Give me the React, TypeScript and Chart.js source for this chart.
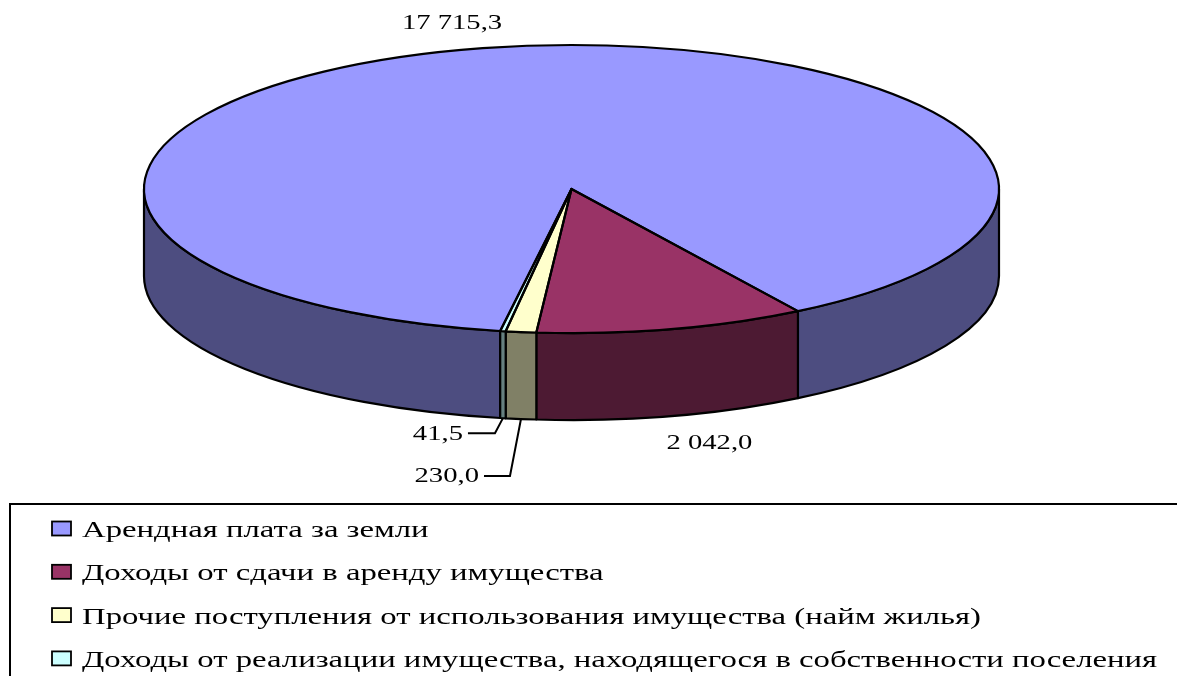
import React, { useEffect, useRef } from 'react';
import { Chart, registerables } from 'chart.js';

Chart.register(...registerables);

// ---- data ----
const categories = [
  'Арендная плата за земли',
  'Доходы от сдачи в аренду имущества',
  'Прочие поступления от использования имущества (найм жилья)',
  'Доходы от реализации имущества, находящегося в собственности поселения',
];
const values = [17715.3, 2042.0, 230.0, 41.5];
const valueLabels = ['17 715,3', '2 042,0', '230,0', '41,5'];

// ---- styles ----
const topColors = ['#9999FF', '#993366', '#FFFFCC', '#CCFFFF'];
const sideColors = ['#4D4D80', '#4D1A33', '#808066', '#668080'];

// ---- layout ----
const ROTATION = 189.6;
const CX = 571.5;
const CY = 189;
const RX = 427.5;
const RY = 144;
const DEPTH = 87;
const LINE = 2.2;
const SX = 1.364; // horizontal text stretch of the original picture
const FONT = '"Liberation Serif", "Times New Roman", serif';

// label placement relative to slice mid-angle anchor
type LabelPos =
  | { kind: 'free'; dx: number; dy: number }
  | { kind: 'leader'; ex: number; ey: number; tail: number; gap: number };
const labelPos: LabelPos[] = [
  { kind: 'free', dx: -36.5, dy: -18.7 },
  { kind: 'free', dx: 37.2, dy: 33 },
  { kind: 'leader', ex: -11, ey: 57, tail: 26, gap: 5 },
  { kind: 'leader', ex: -8, ey: 15, tail: 27, gap: 5 },
];

const TWO_PI = Math.PI * 2;
const norm = (a: number) => ((a % TWO_PI) + TWO_PI) % TWO_PI;

function arcGeom(chart: any) {
  const meta = chart.getDatasetMeta(0);
  return meta.data.map((el: any) => ({
    x: el.x,
    y: el.y,
    r: el.outerRadius,
    s: el.startAngle,
    e: el.endAngle,
  }));
}

function sText(ctx: CanvasRenderingContext2D, txt: string, x: number, y: number, align: CanvasTextAlign) {
  ctx.save();
  ctx.translate(x, y);
  ctx.scale(SX, 1);
  ctx.textAlign = align;
  ctx.textBaseline = 'alphabetic';
  ctx.fillText(txt, 0, 0);
  ctx.restore();
}

const pie3d = {
  id: 'pie3d',
  _saved: false,
  beforeDatasetsDraw(chart: any) {
    const ctx: CanvasRenderingContext2D = chart.ctx;
    const arcs = arcGeom(chart);
    (pie3d as any)._saved = false;
    if (!arcs.length) return;
    ctx.save();
    ctx.lineWidth = LINE;
    ctx.strokeStyle = '#000';
    ctx.lineJoin = 'round';
    arcs.forEach((a: any, i: number) => {
      const s = norm(a.s);
      const e = s + (a.e - a.s);
      const segs: [number, number][] = [];
      for (const off of [0, TWO_PI]) {
        const lo = Math.max(s, off);
        const hi = Math.min(e, off + Math.PI);
        if (hi > lo) segs.push([lo, hi]);
      }
      segs.forEach(([a1, a2]) => {
        ctx.beginPath();
        ctx.ellipse(CX, CY, RX, RY, 0, a1, a2, false);
        ctx.lineTo(CX + RX * Math.cos(a2), CY + RY * Math.sin(a2) + DEPTH);
        ctx.ellipse(CX, CY + DEPTH, RX, RY, 0, a2, a1, true);
        ctx.closePath();
        ctx.fillStyle = sideColors[i];
        ctx.fill();
        ctx.stroke();
      });
    });
    ctx.restore();
    const a0 = arcs[0];
    ctx.save();
    ctx.translate(CX, CY);
    ctx.scale(RX / a0.r, RY / a0.r);
    ctx.translate(-a0.x, -a0.y);
    (pie3d as any)._saved = true;
  },
  afterDatasetsDraw(chart: any) {
    const ctx: CanvasRenderingContext2D = chart.ctx;
    if ((pie3d as any)._saved) ctx.restore();
    const arcs = arcGeom(chart);
    // outlines of top face
    ctx.save();
    ctx.lineWidth = LINE;
    ctx.strokeStyle = '#000';
    ctx.lineJoin = 'round';
    arcs.forEach((a: any) => {
      ctx.beginPath();
      ctx.moveTo(CX, CY);
      ctx.lineTo(CX + RX * Math.cos(a.s), CY + RY * Math.sin(a.s));
      ctx.ellipse(CX, CY, RX, RY, 0, a.s, a.e, false);
      ctx.closePath();
      ctx.stroke();
    });
    ctx.restore();

    // value labels
    ctx.save();
    ctx.fillStyle = '#000';
    ctx.strokeStyle = '#000';
    ctx.lineWidth = 2;
    ctx.font = `21px ${FONT}`;
    arcs.forEach((a: any, i: number) => {
      const mid = (a.s + a.e) / 2;
      const front = Math.sin(mid) > 0;
      const ax = CX + RX * Math.cos(mid);
      const ay = CY + RY * Math.sin(mid) + (front ? DEPTH : 0);
      const p = labelPos[i];
      if (p.kind === 'free') {
        sText(ctx, valueLabels[i], ax + p.dx, ay + p.dy, 'center');
      } else {
        const exx = ax + p.ex;
        const eyy = ay + p.ey;
        ctx.beginPath();
        ctx.moveTo(ax, ay);
        ctx.lineTo(exx, eyy);
        ctx.lineTo(exx - p.tail, eyy);
        ctx.stroke();
        sText(ctx, valueLabels[i], exx - p.tail - p.gap, eyy + 6.5, 'right');
      }
    });
    ctx.restore();
  },
  afterDraw(chart: any) {
    const ctx: CanvasRenderingContext2D = chart.ctx;
    ctx.save();
    // legend frame
    ctx.lineWidth = 2;
    ctx.strokeStyle = '#000';
    ctx.strokeRect(10, 504, 1400, 400);
    ctx.font = `24px ${FONT}`;
    ctx.fillStyle = '#000';
    categories.forEach((c, i) => {
      const cy = 528.5 + i * 43.3;
      ctx.fillStyle = topColors[i];
      ctx.fillRect(52, cy - 7, 19, 14);
      ctx.lineWidth = 1.8;
      ctx.strokeRect(52, cy - 7, 19, 14);
      ctx.fillStyle = '#000';
      sText(ctx, c, 82, cy + 8.5, 'left');
    });
    ctx.restore();
  },
};

export default function App() {
  const ref = useRef<HTMLCanvasElement>(null);
  useEffect(() => {
    const canvas = ref.current;
    if (!canvas) return;
    const chart = new Chart(canvas, {
      type: 'pie',
      data: {
        labels: categories,
        datasets: [
          {
            data: values,
            backgroundColor: topColors,
            borderWidth: 0,
            hoverOffset: 0,
            clip: false as any,
          } as any,
        ],
      },
      options: {
        responsive: false,
        animation: false,
        events: [],
        rotation: ROTATION,
        layout: { padding: 0 },
        plugins: {
          legend: { display: false },
          tooltip: { enabled: false },
        },
      } as any,
      plugins: [pie3d as any],
    });
    return () => chart.destroy();
  }, []);
  return (
    <div style={{ position: 'fixed', left: 0, top: 0, width: 1177, height: 676, background: '#fff' }}>
      <canvas ref={ref} width={1177} height={676} style={{ display: 'block' }} />
    </div>
  );
}
